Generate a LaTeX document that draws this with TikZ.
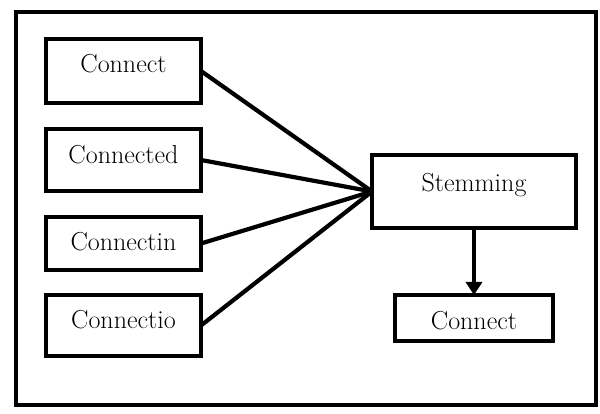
\documentclass[tikz,border=0pt]{standalone}
\usetikzlibrary{arrows.meta}
\begin{document}
\begin{tikzpicture}[x=1pt,y=-1pt,
  box/.style={draw=black,line width=4.4pt,inner sep=0pt,outer sep=0pt,
    font=\fontsize{26}{30}\selectfont},
  conn/.style={line width=4.2pt}]
\fill[white] (0,0) rectangle (600,414);
\useasboundingbox (0,0) rectangle (600,414);
\draw[line width=4.4pt] (16,12) rectangle (596,405);
\node[box,minimum width=155pt,text height=34pt,text depth=30pt] (b1) at (123.5,71) {Connect};
\node[box,minimum width=155pt,text height=35pt,text depth=27pt] (b2) at (123.5,160) {Connected};
\node[box,minimum width=155pt,text height=34pt,text depth=19pt] (b3) at (123.5,243.5) {Connectin};
\node[box,minimum width=155pt,text height=33pt,text depth=28pt] (b4) at (123.5,325.5) {Connectio};
\node[box,minimum width=204pt,text height=37pt,text depth=36pt] (st) at (474,191.5) {Stemming};
\node[box,minimum width=158pt,text height=34pt,text depth=12pt] (bc) at (474,318) {Connect};
\draw[conn] (b1.east) -- (st.west);
\draw[conn] (b2.east) -- (st.west);
\draw[conn] (b3.east) -- (st.west);
\draw[conn] (b4.east) -- (st.west);
\draw[conn,-{Triangle[length=13pt,width=16pt]}] (st.south) -- (bc.north);
\end{tikzpicture}
\end{document}
